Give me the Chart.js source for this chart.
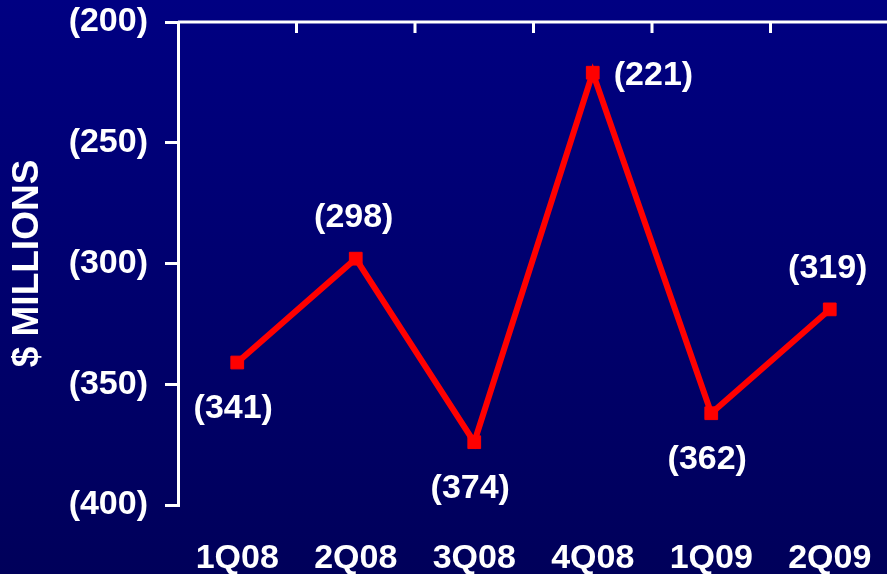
<!DOCTYPE html>
<html>
<head>
<meta charset="utf-8">
<script src="https://cdn.jsdelivr.net/npm/chart.js@4/dist/chart.umd.min.js"></script>
<style>
  html, body { margin: 0; padding: 0; width: 887px; height: 574px; overflow: hidden; }
  body { background: linear-gradient(to bottom, #000082 0%, #00006e 50%, #00005a 100%); }
  canvas { display: block; }
</style>
</head>
<body>
<canvas id="c" width="899" height="574"></canvas>
<script>
// Quarterly results, $ millions (losses shown in parentheses)
const quarters = ['1Q08', '2Q08', '3Q08', '4Q08', '1Q09', '2Q09'];
const results = [-341, -298, -374, -221, -362, -319];
const yTicks = [-400, -350, -300, -250, -200];
// where each value label sits relative to its point
const labelSide = ['below', 'above', 'below', 'right', 'below', 'above'];

const FONT = '"Liberation Sans", Arial, sans-serif';
const paren = v => '(' + Math.abs(v) + ')';

// top axis line with category tick marks pointing into the plot
const topAxis = {
  id: 'topAxis',
  afterDatasetsDraw(chart) {
    const { ctx, chartArea, scales } = chart;
    const x = scales.x, y = scales.y;
    const yTop = y.getPixelForValue(yTicks[yTicks.length - 1]);
    ctx.save();
    ctx.strokeStyle = '#ffffff';
    ctx.lineWidth = 3;
    ctx.beginPath();
    ctx.moveTo(chartArea.left, yTop);
    ctx.lineTo(chartArea.right + 2, yTop);
    ctx.stroke();
    const half = (x.getPixelForValue(1) - x.getPixelForValue(0)) / 2;
    ctx.beginPath();
    for (let i = 0; i < quarters.length; i++) {
      const bx = x.getPixelForValue(i) + half;
      ctx.moveTo(bx, yTop);
      ctx.lineTo(bx, yTop + 11);
    }
    ctx.stroke();
    ctx.restore();
  }
};

// value labels next to each point
const valueLabels = {
  id: 'valueLabels',
  afterDatasetsDraw(chart) {
    const { ctx } = chart;
    const meta = chart.getDatasetMeta(0);
    ctx.save();
    ctx.fillStyle = '#ffffff';
    ctx.font = 'bold 34px ' + FONT;
    ctx.textBaseline = 'middle';
    meta.data.forEach((pt, i) => {
      const txt = paren(results[i]);
      const side = labelSide[i];
      if (side === 'right') {
        ctx.textAlign = 'left';
        ctx.fillText(txt, pt.x + 21, pt.y + 3);
      } else if (side === 'above') {
        ctx.textAlign = 'center';
        ctx.fillText(txt, pt.x - 2, pt.y - 41);
      } else {
        ctx.textAlign = 'center';
        ctx.fillText(txt, pt.x - 4, pt.y + 46);
      }
    });
    ctx.restore();
  }
};

new Chart(document.getElementById('c'), {
  type: 'line',
  data: {
    labels: quarters,
    datasets: [{
      data: results,
      borderColor: '#ff0000',
      backgroundColor: '#ff0000',
      borderWidth: 6,
      tension: 0,
      pointStyle: 'rect',
      pointRadius: 9,
      pointBorderWidth: 1,
      pointBorderColor: '#ff0000',
      pointBackgroundColor: '#ff0000',
      clip: false
    }]
  },
  options: {
    responsive: false,
    animation: false,
    layout: { padding: { top: 22, right: 0, left: 0, bottom: 0 } },
    plugins: { legend: { display: false }, tooltip: { enabled: false } },
    scales: {
      x: {
        type: 'category',
        offset: true,
        position: 'bottom',
        border: { display: false },
        grid: { display: false, drawTicks: false },
        ticks: {
          color: '#ffffff',
          font: { family: FONT, size: 34, weight: 'bold' },
          padding: 33,
          maxRotation: 0,
          autoSkip: false
        },
        afterFit(scale) {
          scale.height = 69;
          scale.paddingLeft = 0;
          scale.paddingRight = 0;
        }
      },
      y: {
        min: -400,
        max: -200,
        position: 'left',
        afterBuildTicks(scale) { scale.ticks = yTicks.map(v => ({ value: v })); },
        border: { display: true, color: '#ffffff', width: 3 },
        grid: {
          drawOnChartArea: false,
          drawTicks: true,
          tickLength: 13,
          color: '#ffffff',
          lineWidth: 3
        },
        ticks: {
          color: '#ffffff',
          font: { family: FONT, size: 34, weight: 'bold' },
          padding: 17,
          callback: v => paren(v)
        },
        title: {
          display: true,
          text: '$ MILLIONS',
          color: '#ffffff',
          font: { family: FONT, size: 37, weight: 'bold' },
          padding: { top: 6, bottom: 0 }
        },
        afterFit(scale) {
          scale.width = 178;
          scale.paddingTop = 0;
          scale.paddingBottom = 0;
        }
      }
    }
  },
  plugins: [topAxis, valueLabels]
});
</script>
</body>
</html>
